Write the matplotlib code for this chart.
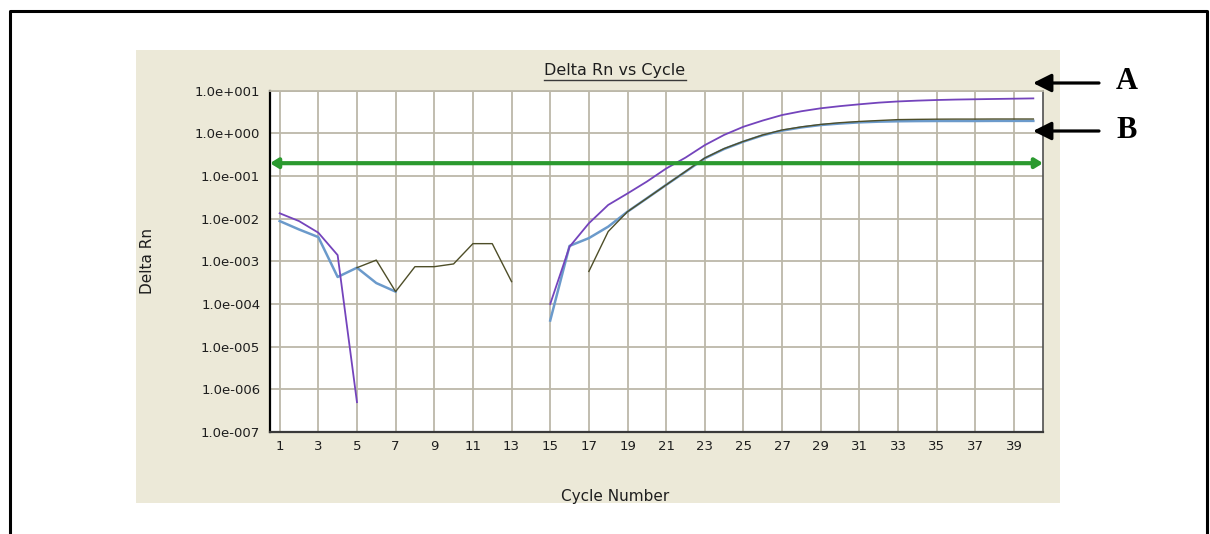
"""Delta Rn amplification plot (log scale) with threshold and curve markers A / B."""
import matplotlib

matplotlib.use("Agg")
import matplotlib.pyplot as plt
import numpy as np
from matplotlib.lines import Line2D
from matplotlib.patches import Rectangle

nan = np.nan

cycles = list(range(1, 41))

# sample A (upper plateau)
delta_rn_a = [
    0.0134, 0.0088, 0.0047, 0.0014, 5.0e-7, nan, nan, nan, nan, nan,
    nan, nan, nan, nan, 1.0e-4, 0.0022, 0.0078, 0.021, 0.039, 0.074,
    0.15, 0.27, 0.53, 0.92, 1.43, 2.0, 2.69, 3.3, 3.87, 4.35,
    4.8, 5.25, 5.6, 5.85, 6.05, 6.2, 6.3, 6.4, 6.5, 6.6,
]

# sample B (lower plateau)
delta_rn_b = [
    0.0088, 0.0056, 0.0037, 4.3e-4, 7.1e-4, 3.1e-4, 1.95e-4, nan, nan, nan,
    nan, nan, nan, nan, 4.1e-5, 0.0023, 0.0035, 0.0065, 0.0146, 0.030,
    0.062, 0.126, 0.26, 0.43, 0.64, 0.90, 1.16, 1.38, 1.57, 1.70,
    1.81, 1.88, 1.92, 1.94, 1.95, 1.95, 1.95, 1.96, 1.96, 1.96,
]

# third well, overlaps B after cycle 19
delta_rn_c = [
    nan, nan, nan, nan, 7.1e-4, 1.07e-3, 1.95e-4, 7.5e-4, 7.5e-4, 8.7e-4,
    2.6e-3, 2.6e-3, 3.35e-4, nan, nan, nan, 5.8e-4, 0.005, 0.0146, 0.030,
    0.062, 0.128, 0.265, 0.44, 0.65, 0.92, 1.20, 1.42, 1.62, 1.78,
    1.90, 2.00, 2.10, 2.13, 2.15, 2.16, 2.16, 2.17, 2.17, 2.17,
]

threshold = 0.2

x_ticks = list(range(1, 40, 2))
y_ticks = [1e-7, 1e-6, 1e-5, 1e-4, 1e-3, 1e-2, 1e-1, 1e0, 1e1]
y_tick_labels = [
    "1.0e-007", "1.0e-006", "1.0e-005", "1.0e-004", "1.0e-003",
    "1.0e-002", "1.0e-001", "1.0e+000", "1.0e+001",
]

C_A = "#7444bc"
C_B = "#6b9acb"
C_C = "#4e4e28"
C_THR = "#2b9a2f"
C_GRID = "#bcb8a9"
C_PANEL = "#ece9d8"
C_TEXT = "#1e1e1e"

W, H = 1210, 534
fig = plt.figure(figsize=(W / 100, H / 100), dpi=100)
fig.patch.set_facecolor("white")


def px(x, y):
    """pixel position (from top-left) -> figure fraction"""
    return x / W, 1 - y / H


# outer page frame (open at the bottom)
fig.add_artist(Line2D([9.5 / W, 9.5 / W, 1206.5 / W, 1206.5 / W],
                      [-0.1, 1 - 10.5 / H, 1 - 10.5 / H, -0.1],
                      transform=fig.transFigure, color="black", lw=2.2))

# beige chart panel
x0, y0 = px(136, 503)
x1, y1 = px(1060, 50)
fig.add_artist(Rectangle((x0, y0), x1 - x0, y1 - y0, transform=fig.transFigure,
                         facecolor=C_PANEL, edgecolor="none", zorder=0))

ax_l, ax_b = px(270, 432)
ax_r, ax_t = px(1043, 90.7)
ax = fig.add_axes([ax_l, ax_b, ax_r - ax_l, ax_t - ax_b])
ax.set_facecolor("white")

ax.set_yscale("log")
ax.set_xlim(0.5, 40.5)
ax.set_ylim(1e-7, 1e1)

ax.set_xticks(x_ticks)
ax.set_xticklabels([str(c) for c in x_ticks])
ax.set_yticks(y_ticks)
ax.set_yticklabels(y_tick_labels)
ax.yaxis.set_minor_locator(matplotlib.ticker.NullLocator())
ax.tick_params(axis="both", length=0, labelsize=9.5, colors=C_TEXT)
ax.tick_params(axis="y", pad=7)
ax.tick_params(axis="x", pad=6)

ax.grid(True, which="major", color=C_GRID, lw=1.3)
ax.set_axisbelow(True)

for side, color, lw in [("left", "black", 1.6), ("bottom", "#3a3a3a", 1.6),
                        ("right", "#505050", 1.2), ("top", C_GRID, 1.3)]:
    ax.spines[side].set_color(color)
    ax.spines[side].set_linewidth(lw)

ax.plot(cycles, delta_rn_b, color=C_B, lw=1.8, zorder=3)
ax.plot(cycles, delta_rn_c, color=C_C, lw=1.0, zorder=4)
ax.plot(cycles, delta_rn_a, color=C_A, lw=1.3, zorder=5)

# threshold line, double-headed across the plot
ax.annotate("", xy=(0.0, threshold), xytext=(1.0, threshold),
            xycoords=("axes fraction", "data"), textcoords=("axes fraction", "data"),
            arrowprops=dict(arrowstyle="<|-|>,head_length=0.45,head_width=0.28",
                            color=C_THR, lw=3, shrinkA=0, shrinkB=0),
            zorder=6)

ax.set_ylabel("Delta Rn", fontsize=11, color=C_TEXT)
ax.yaxis.set_label_coords((155 - 270) / 773, 0.5)
ax.set_xlabel("Cycle Number", fontsize=11, color=C_TEXT, va="center")
ax.xaxis.set_label_coords((615 - 270) / 773, (432 - 496) / 341.3)

title = ax.text((615 - 270) / 773, (432 - 71) / 341.3, "Delta Rn vs Cycle",
                transform=ax.transAxes, ha="center", va="center",
                fontsize=11.5, color=C_TEXT)

# curve markers on the right
for label, y in [("A", 83), ("B", 131)]:
    fig.add_artist(matplotlib.patches.FancyArrowPatch(
        px(1099, y), px(1033, y), transform=fig.transFigure,
        arrowstyle="-|>,head_length=1.1,head_width=0.55",
        mutation_scale=10, color="black", lw=2.3, shrinkA=0, shrinkB=0))
    fx, fy = px(1127, y - 1)
    fig.text(fx, fy, label, ha="center", va="center", fontsize=22,
             fontweight="bold", family="Liberation Serif", color="black")

# underline the title
fig.canvas.draw()
bb = title.get_window_extent().transformed(fig.transFigure.inverted())
uy = 1 - 80 / H
fig.add_artist(Line2D([bb.x0, bb.x1], [uy, uy], transform=fig.transFigure,
                      color="#3a3a3a", lw=1.0))

fig.savefig("out.png", dpi=100, facecolor="white")
